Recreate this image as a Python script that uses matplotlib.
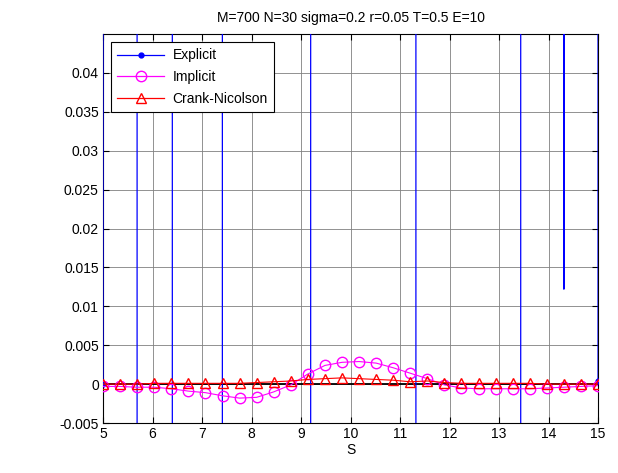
import numpy as np
import matplotlib
matplotlib.use('Agg')
from matplotlib import pyplot as plt
from matplotlib.lines import Line2D

plt.rcParams['font.family'] = ['Liberation Sans', 'DejaVu Sans']
plt.rcParams['font.size'] = 10

# 30 grid points in S from 5 to 15
S = np.linspace(5, 15, 30)

# explicit scheme is unstable: most nodes are far off the visible range
explicit = [0, 800, -3, -900, -60, 940, 1200, -10, -700, -900,
            -1100, -800, -330, 1670, 1500, 1300, 1100, 900, 660, -1340,
            -1200, -1100, -1000, -950, -940, 1060, 900, 0.0122, 800, 0.0004]

implicit = [-0.0003, -0.0003, -0.0004, -0.0004, -0.0006, -0.0009, -0.0011, -0.0015, -0.0018, -0.0017,
            -0.0010, -0.0001, 0.0013, 0.0024, 0.0028, 0.0029, 0.0027, 0.0021, 0.0014, 0.0007,
            -0.0001, -0.0005, -0.0006, -0.0006, -0.0006, -0.0006, -0.0005, -0.0004, -0.0003, -0.0002]

crank = [0.0000, 0.0000, 0.0000, 0.0001, 0.0001, 0.0001, 0.0001, 0.0001, 0.0001, 0.0002,
         0.0003, 0.0004, 0.0006, 0.0007, 0.0008, 0.0007, 0.0006, 0.0005, 0.0003, 0.0004,
         0.0002, 0.0001, 0.0001, 0.0001, 0.0001, 0.0001, 0.0000, 0.0000, 0.0000, 0.0000]

zero = np.zeros(len(S))

MAG = '#ff00ff'

fig = plt.figure(figsize=(6.18, 4.73), dpi=100)
ax = fig.add_axes([0.1667, 0.1057, 0.8010, 0.8224])

ax.plot(S, zero, 'k-', lw=1.3, zorder=2)
ax.plot(S, explicit, '-', color='b', lw=0.9, marker='.', ms=7,
        markevery=[0, 29], zorder=3)
ax.plot(S, implicit, '-', color=MAG, lw=0.8, marker='o', ms=7.5,
        mfc='none', mec=MAG, zorder=4)
ax.plot(S, crank, '-', color='r', lw=0.8, marker='^', ms=7.5,
        mfc='none', mec='r', zorder=5)

ax.set_xlim(5, 15)
ax.set_ylim(-0.005, 0.045)
ax.set_xticks(np.arange(5, 16, 1))
ax.set_yticks(np.arange(-0.005, 0.0401, 0.005))
ax.set_yticklabels(['-0.005', '0', '0.005', '0.01', '0.015', '0.02',
                    '0.025', '0.03', '0.035', '0.04'])
ax.grid(True, color='0.5', lw=0.6)
ax.set_axisbelow(True)
ax.tick_params(direction='in', length=4, top=True, right=True,
               labelsize=10, pad=3)
for sp in ax.spines.values():
    sp.set_linewidth(0.8)

ax.set_title('M=700 N=30 sigma=0.2 r=0.05 T=0.5 E=10', fontsize=10, pad=9)
ax.set_xlabel('S', fontsize=10, labelpad=1)

handles = [
    Line2D([], [], color='b', lw=0.9, marker='.', ms=7),
    Line2D([], [], color=MAG, lw=0.9, marker='o', ms=7.5, mfc='none'),
    Line2D([], [], color='r', lw=0.9, marker='^', ms=7.5, mfc='none'),
]
leg = ax.legend(handles, ['Explicit', 'Implicit', 'Crank-Nicolson'],
                loc='upper left', bbox_to_anchor=(0.016, 0.979),
                borderaxespad=0, fancybox=False, framealpha=1,
                edgecolor='k', handlelength=3.4, labelspacing=0.55,
                borderpad=0.45, handletextpad=0.6, fontsize=10)
leg.get_frame().set_linewidth(0.8)

plt.savefig('out.png', dpi=100)
